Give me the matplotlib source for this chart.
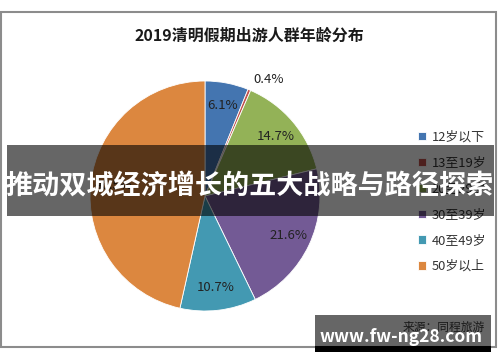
import matplotlib
matplotlib.use('Agg')
import matplotlib.pyplot as plt
from matplotlib.patches import Rectangle
import numpy as np

plt.rcParams['font.family'] = ['Noto Sans CJK SC', 'DejaVu Sans']

# data
title = '2019清明假期出游人群年龄分布'
groups = ['12岁以下', '13至19岁', '20至29岁', '30至39岁', '40至49岁', '50岁以上']
shares = [6.1, 0.4, 14.7, 21.6, 10.7, 46.5]
colors = ['#4475b0', '#c0504d', '#93b257', '#735a95', '#4399b2', '#dc873f']
banner = '推动双城经济增长的五大战略与路径探索'
source = '来源：同程旅游'
watermark = 'www.fw-ng28.com'

W, H = 500, 362


def box(x, y, w, h):
    # pixel box (top-left origin) -> figure fraction
    return [x / W, 1 - (y + h) / H, w / W, h / H]


fig = plt.figure(figsize=(W / 100, H / 100), dpi=100)

# chart frame
l, b, w, h = box(1, 12, 495, 335)
fig.add_artist(Rectangle((l, b), w, h, transform=fig.transFigure, fill=False,
                         edgecolor='#8c8c8c', linewidth=1.5, zorder=1))

fig.text(0.498, 1 - 36 / H, title, ha='center', va='center',
         fontsize=11.5, fontweight='bold', color='#1a1a1a')

# pie
ax = fig.add_axes(box(90, 81, 230, 230))
wedges, _ = ax.pie(shares, colors=colors, startangle=90, counterclock=False,
                   wedgeprops=dict(edgecolor='white', linewidth=0.6))
ax.set_xlim(-1, 1)
ax.set_ylim(-1, 1)

for wdg, val in zip(wedges, shares):
    mid = np.deg2rad((wdg.theta1 + wdg.theta2) / 2)
    if val < 1:
        r, ha = 1.1, 'left'
    else:
        r, ha = 0.8, 'center'
    ax.text(r * np.cos(mid), r * np.sin(mid), '%.1f%%' % val, ha=ha, va='center',
            fontsize=9.5, color='#222222')

# legend
fig.legend(wedges, groups, loc='upper left',
           bbox_to_anchor=(412 / W, 1 - 124 / H), bbox_transform=fig.transFigure,
           frameon=False, fontsize=9.3, handlelength=0.6, handleheight=0.6,
           handletextpad=0.4, labelspacing=1.0, borderpad=0, labelcolor='#333333')

# source + watermark
fig.text(485 / W, 1 - 327 / H, source, ha='right', va='center', fontsize=8.5,
         color='#404040')
l, b, w, h = box(315, 315, 176, 31)
fig.add_artist(Rectangle((l, b), w, h, transform=fig.transFigure, color='black',
                         alpha=0.6, linewidth=0, zorder=10))
l, b, w, h = box(315, 346, 176, 6)
fig.add_artist(Rectangle((l, b), w, h, transform=fig.transFigure, color='black',
                         linewidth=0, zorder=10))
fig.text(401 / W, 1 - 337 / H, watermark, ha='center', va='center', fontsize=12.5,
         fontweight='bold', color='white', zorder=11)

# banner over the chart
l, b, w, h = box(7, 145, 487, 71)
fig.add_artist(Rectangle((l, b), w, h, transform=fig.transFigure, color='black',
                         alpha=0.6, linewidth=0, zorder=10))
fig.text(250 / W, 1 - 186 / H, banner, ha='center', va='center', fontsize=19.5,
         fontweight='bold', color='white', zorder=11)

fig.savefig('out.png', dpi=100)
